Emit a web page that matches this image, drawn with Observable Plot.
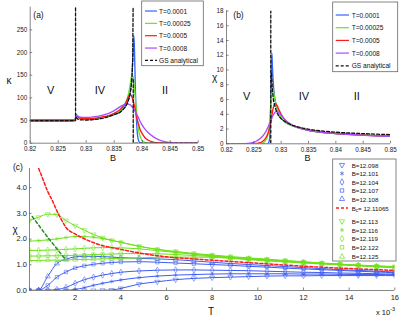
<!DOCTYPE html>
<html><head><meta charset="utf-8">
<script src="https://cdn.jsdelivr.net/npm/d3@7"></script>
<script src="https://cdn.jsdelivr.net/npm/@observablehq/plot@0.6"></script>
<style>
body{margin:0;background:#fff;}
#wrap{position:relative;width:415px;height:324px;overflow:hidden;background:#fff;}
#wrap svg{position:absolute;overflow:visible;}
</style></head><body><div id="wrap"></div>
<script>
// ---------- Panel (a): kappa vs B ----------
const aB = [0.820,0.825,0.828,0.8282,0.8284,0.8286,0.829,0.830,0.831,0.832,0.833,0.834,0.835,0.836,0.8365,0.837,0.8373,0.8376,0.8378,0.838,0.8382,0.8384,0.8385,0.8386,0.8388,0.839,0.8393,0.8396,0.840,0.8405,0.841,0.842,0.843,0.844,0.845,0.846,0.848,0.850];
const aBlue   = [50,50,50.5,64,61,58,55,53,53,54,56,59,63,68,75,82,88,98,108,125,160,205,237,215,110,45,8,1,0,0,0,0,0,0,0,0,0,0];
const aGreen  = [50.5,50.5,51,62,61,58,55,53.5,53.5,54.5,57,60,65,70,79,88,97,112,125,142,151,145,135,122,95,68,35,16,6,1.5,0.3,0,0,0,0,0,0,0];
const aRed    = [49,49,49.5,58,59,57,55,54,54.5,56,58.5,61,66,74,80,88,96,104,107,106,101,93,88,83,72,57,44,31,21,12,7,2.5,0.8,0.2,0,0,0,0];
const aPurple = [52,52,52.5,58,59.5,59,57.5,57,57.5,59,62,66,72,80,83.5,86,87,86,85,83,80,77,75,73,69,64,57,49,40,31,24,14,7.5,3.5,1.5,0.6,0.1,0];
// GS analytical (null = break in the dashed line)
const aGsB = [0.820,0.8281,0.8281,0.8281,0.8282,0.8285,0.829,0.830,0.831,0.832,0.833,0.834,0.835,0.836,0.8365,0.837,0.8373,0.8376,0.8378,0.838,0.8382,0.8383,0.83838,0.8384,0.8384,0.8384,0.850];
const aGsK = [50,50,300,null,57,53,51.5,51,51.5,53,55,58.5,63,68,73,80,87,97,106,122,150,180,300,null,140,0,0];
const aXTicks = [0.82,0.825,0.83,0.835,0.84,0.845,0.85];
const aYTicks = [0,50,100,150,200,250];

// ---------- Panel (b): chi vs B ----------
const bB = [0.820,0.823,0.824,0.825,0.8255,0.826,0.8265,0.827,0.8275,0.8278,0.828,0.8282,0.8283,0.8284,0.8286,0.8288,0.829,0.8293,0.8296,0.830,0.831,0.832,0.833,0.834,0.835,0.836,0.838,0.840,0.842,0.844,0.846,0.848,0.850];
const bBlue   = [0,0,0,0,0,0,0,0,0,0.3,2.5,9.5,12.3,10.5,7.8,6.4,5.5,4.6,4.0,3.45,2.8,2.45,2.2,1.98,1.82,1.7,1.52,1.4,1.3,1.22,1.15,1.09,1.04];
const bGreen  = [0,0,0,0,0,0.02,0.08,0.3,1.0,2.2,4.0,6.5,7.3,7.6,7.0,6.2,5.5,4.7,4.1,3.5,2.82,2.45,2.2,1.98,1.82,1.7,1.52,1.4,1.3,1.22,1.15,1.09,1.04];
const bRed    = [0,0,0.01,0.03,0.06,0.12,0.28,0.6,1.25,1.9,2.5,3.3,3.8,4.3,5.0,5.4,5.45,5.1,4.6,4.0,3.0,2.55,2.25,2.02,1.84,1.71,1.52,1.4,1.3,1.21,1.14,1.08,1.03];
const bPurple = [0,0.03,0.06,0.2,0.38,0.62,0.95,1.4,2.1,2.6,3.0,3.3,3.5,3.7,3.95,4.2,4.35,4.38,4.2,3.85,3.05,2.55,2.25,2.0,1.83,1.7,1.5,1.38,1.28,1.2,1.13,1.07,1.02];
const bGsB = [0.820,0.8281,0.8281,0.8281,0.82825,0.8284,0.8286,0.829,0.8293,0.8296,0.830,0.831,0.832,0.833,0.834,0.835,0.836,0.838,0.840,0.842,0.844,0.846,0.848,0.850];
const bGsX = [0,0,18,null,9.5,7.2,5.8,4.7,4.1,3.7,3.4,2.85,2.52,2.3,2.12,1.98,1.86,1.69,1.57,1.48,1.41,1.35,1.29,1.25];
const bXTicks = [0.82,0.825,0.83,0.835,0.84,0.845,0.85];
const bYTicks = [0,2,4,6,8,10,12,14,16,18];

// ---------- Panel (c): chi vs T (x 1e-3) ----------
const cT = [0,0.4,0.8,1.2,1.6,2,2.4,2.8,3.2,3.6,4,4.8,5.6,6.4,7.2,8,8.8,9.6,10.4,11.2,12,12.8,13.6,14.4,15.2,16];
const c12098 = [0,0,0,0,0,0,0,0,0.01,0.02,0.08,0.25,0.34,0.42,0.47,0.5,0.52,0.54,0.56,0.57,0.57,0.58,0.58,0.58,0.58,0.58];
const c12101 = [0,0,0,0,0.01,0.04,0.11,0.2,0.28,0.35,0.41,0.5,0.56,0.6,0.62,0.64,0.65,0.65,0.65,0.65,0.64,0.64,0.63,0.62,0.62,0.61];
const c12104 = [0,0,0.01,0.04,0.12,0.28,0.42,0.52,0.6,0.66,0.71,0.76,0.79,0.8,0.8,0.79,0.78,0.77,0.75,0.73,0.71,0.7,0.68,0.67,0.65,0.64];
const c12107 = [0,0.01,0.2,0.52,0.72,0.88,0.96,1.02,1.06,1.09,1.11,1.12,1.1,1.07,1.04,1.01,0.98,0.94,0.91,0.87,0.84,0.81,0.78,0.75,0.72,0.69];
const c12108 = [0,0.02,0.55,1.05,1.22,1.31,1.33,1.33,1.32,1.3,1.28,1.25,1.23,1.2,1.15,1.1,1.05,1.01,0.97,0.93,0.89,0.85,0.81,0.78,0.75,0.72];
const c12113 = [2.72,2.85,2.97,2.95,2.72,2.52,2.35,2.18,2.05,1.95,1.87,1.72,1.6,1.52,1.44,1.38,1.32,1.27,1.22,1.17,1.12,1.07,1.03,0.99,0.96,0.93];
const c12116 = [1.92,1.94,1.97,2.01,2.06,2.1,2.1,2.07,2.02,1.95,1.88,1.72,1.6,1.5,1.42,1.36,1.3,1.25,1.2,1.15,1.11,1.06,1.02,0.98,0.95,0.92];
const c12119 = [1.56,1.56,1.57,1.58,1.6,1.62,1.64,1.66,1.67,1.67,1.66,1.62,1.55,1.48,1.41,1.34,1.28,1.23,1.19,1.14,1.09,1.05,1.01,0.98,0.94,0.91];
const c12122 = [1.34,1.34,1.35,1.35,1.36,1.37,1.38,1.4,1.41,1.42,1.43,1.44,1.43,1.4,1.36,1.32,1.27,1.22,1.17,1.13,1.09,1.05,1.01,0.97,0.93,0.9];
const c12125 = [1.17,1.17,1.18,1.18,1.19,1.2,1.21,1.22,1.23,1.24,1.25,1.27,1.29,1.3,1.3,1.29,1.25,1.2,1.15,1.11,1.07,1.03,1.0,0.96,0.92,0.89];
const cBcT   = [0.4,0.6,0.8,1,1.2,1.4,1.6,2,2.5,3,4,5,6,7.5,10,12.5,16];
const cBcChi = [4.75,4.3,3.85,3.5,3.1,2.75,2.45,2.2,1.97,1.8,1.6,1.43,1.31,1.21,1.06,0.92,0.78];
const cPeakT   = [0.12,0.77,1.58];
const cPeakChi = [2.88,2.1,1.2];
const cXTicks = [2,4,6,8,10,12,14,16];
const cYTicks = [0,1,2,3,4];

const FONT = '"Liberation Sans", Arial, Helvetica, sans-serif';
const BLUE="#3366ff", GREEN="#66e622", RED="#ff1a1a", PURPLE="#a64dff";
const CBLUE="#3d5cf2", CGREEN="#6ee01a";

const wrap = document.getElementById("wrap");
const zip = (xs, ys, kx, ky) => xs.map((x,i)=>({[kx]:x,[ky]:ys[i]}));

function frameMarks(x0, y0, xt, yt, w, h, m) {
  const pw = w - m.l - m.r, ph = h - m.t - m.b;
  return [
    Plot.tickX(xt, {x: d=>d, insetTop: ph-2.5, stroke:"#333", strokeWidth:0.6}),
    Plot.tickY(yt, {y: d=>d, insetRight: pw-2.5, stroke:"#333", strokeWidth:0.6}),
    Plot.ruleY([y0], {stroke:"#666", strokeWidth:0.8}),
    Plot.ruleX([x0], {stroke:"#666", strokeWidth:0.8})
  ];
}
function place(svg, left, top) {
  svg.style.left = left+"px"; svg.style.top = top+"px";
  svg.style.background = "transparent";
  wrap.appendChild(svg);
}
const fmtB = d => String(+d.toFixed(3));

// Panel (a)
{
  const W=205,H=160,m={l:29.7,r:7.3,t:6.7,b:17.3};
  const line = (ys, c) => Plot.line(zip(aB, ys, "B", "v"), {x:"B", y:"v", stroke:c, strokeWidth:1.35, curve:"monotone-x", clip:true});
  const svg = Plot.plot({
    width:W, height:H, marginLeft:m.l, marginRight:m.r, marginTop:m.t, marginBottom:m.b,
    style:{fontFamily:FONT, fontSize:"6.3px", color:"#222", background:"transparent"},
    x:{domain:[0.82,0.85], ticks:aXTicks, tickFormat:fmtB, tickSize:0, tickPadding:3.6, label:null},
    y:{domain:[0,300], ticks:aYTicks, tickSize:0, tickPadding:3, label:null},
    marks:[
      line(aBlue, BLUE), line(aGreen, GREEN), line(aRed, RED), line(aPurple, PURPLE),
      Plot.line(zip(aGsB, aGsK, "B", "v"), {x:"B", y:"v", stroke:"#111", strokeWidth:1.3, strokeDasharray:"3,2", clip:true}),
      ...frameMarks(0.82, 0, aXTicks, aYTicks, W, H, m)
    ]
  });
  place(svg, 0, 0);
}
// Panel (b)
{
  const W=210,H=160,m={l:21,r:25,t:10.5,b:16.7};
  const line = (ys, c) => Plot.line(zip(bB, ys, "B", "v"), {x:"B", y:"v", stroke:c, strokeWidth:1.35, curve:"monotone-x", clip:true});
  const svg = Plot.plot({
    width:W, height:H, marginLeft:m.l, marginRight:m.r, marginTop:m.t, marginBottom:m.b,
    style:{fontFamily:FONT, fontSize:"6.3px", color:"#222", background:"transparent"},
    x:{domain:[0.82,0.85], ticks:bXTicks, tickFormat:fmtB, tickSize:0, tickPadding:3.6, label:null},
    y:{domain:[0,18], ticks:bYTicks, tickSize:0, tickPadding:3, label:null},
    marks:[
      line(bBlue, BLUE), line(bGreen, GREEN), line(bRed, RED), line(bPurple, PURPLE),
      Plot.line(zip(bGsB, bGsX, "B", "v"), {x:"B", y:"v", stroke:"#111", strokeWidth:1.3, strokeDasharray:"3,2", clip:true}),
      ...frameMarks(0.82, 0, bXTicks, bYTicks, W, H, m)
    ]
  });
  place(svg, 205, 0);
}
// Panel (c)
const cSeries = [
  {name:"B=12.098", vals:c12098, color:CBLUE, symbol:"triangle", rotate:180},
  {name:"B=12.101", vals:c12101, color:CBLUE, symbol:"asterisk", rotate:0},
  {name:"B=12.104", vals:c12104, color:CBLUE, symbol:"diamond", rotate:0},
  {name:"B=12.107", vals:c12107, color:CBLUE, symbol:"square", rotate:0},
  {name:"B=12.108", vals:c12108, color:CBLUE, symbol:"triangle", rotate:0},
  {name:"B=12.113", vals:c12113, color:CGREEN, symbol:"triangle", rotate:180},
  {name:"B=12.116", vals:c12116, color:CGREEN, symbol:"asterisk", rotate:0},
  {name:"B=12.119", vals:c12119, color:CGREEN, symbol:"diamond", rotate:0},
  {name:"B=12.122", vals:c12122, color:CGREEN, symbol:"square", rotate:0},
  {name:"B=12.125", vals:c12125, color:CGREEN, symbol:"triangle", rotate:0}
];
{
  const W=415,H=164,m={l:29,r:20.7,t:7.9,b:34};
  const marks = [];
  for (const s of cSeries) {
    const data = zip(cT, s.vals, "T", "v");
    marks.push(Plot.line(data, {x:"T", y:"v", stroke:s.color, strokeWidth:1, curve:"monotone-x", clip:true}));
    marks.push(Plot.dot(data, {x:"T", y:"v", stroke:s.color, strokeOpacity:0.75, strokeWidth:0.7, fill:"none", symbol:s.symbol, r:1.9, rotate:s.rotate, clip:true}));
  }
  marks.push(Plot.line(zip(cBcT, cBcChi, "T", "v"), {x:"T", y:"v", stroke:RED, strokeWidth:1.5, strokeDasharray:"3,2", curve:"monotone-x", clip:true}));
  marks.push(Plot.line(zip(cPeakT, cPeakChi, "T", "v"), {x:"T", y:"v", stroke:"#1f8f1f", strokeWidth:1.5, strokeDasharray:"3,2.5", clip:true}));
  const svg = Plot.plot({
    width:W, height:H, marginLeft:m.l, marginRight:m.r, marginTop:m.t, marginBottom:m.b,
    style:{fontFamily:FONT, fontSize:"7.5px", color:"#222", background:"transparent"},
    x:{domain:[0,16], ticks:cXTicks, tickSize:0, tickPadding:4, label:null},
    y:{domain:[0,4.75], ticks:cYTicks, tickSize:0, tickPadding:2.5, label:null},
    marks:[...marks, ...frameMarks(0, 0, cXTicks, cYTicks, W, H, m)]
  });
  place(svg, 0, 160);
}

// ---------- Overlay: legends, labels ----------
const ov = d3.create("svg").attr("width",415).attr("height",324)
  .style("left","0px").style("top","0px").style("font-family",FONT);
wrap.appendChild(ov.node());
function txt(x, y, s, size, anchor="middle") {
  return ov.append("text").attr("x",x).attr("y",y).attr("font-size",size)
    .attr("text-anchor",anchor).attr("dominant-baseline","central").attr("fill","#111").text(s);
}
const abLegend = [
  {label:"T=0.0001", color:BLUE, dash:null},
  {label:"T=0.00025", color:GREEN, dash:null},
  {label:"T=0.0005", color:RED, dash:null},
  {label:"T=0.0008", color:PURPLE, dash:null},
  {label:"GS analytical", color:"#111", dash:"3,2"}
];
function legendAB(x, y, w, h, y0, dy, lx0, lx1, tx) {
  ov.append("rect").attr("x",x).attr("y",y).attr("width",w).attr("height",h)
    .attr("fill","#fff").attr("stroke","#666").attr("stroke-width",0.8);
  abLegend.forEach((e,i)=>{
    const yy = y0 + i*dy;
    ov.append("line").attr("x1",lx0).attr("x2",lx1).attr("y1",yy).attr("y2",yy)
      .attr("stroke",e.color).attr("stroke-width",1.2).attr("stroke-dasharray",e.dash);
    txt(tx, yy, e.label, 6.6, "start");
  });
}
legendAB(141.7, 1, 61.6, 64.7, 11, 12.35, 145, 157, 159);
legendAB(332.7, 2, 65, 69.7, 15, 12.7, 335.7, 349, 351.7);

{
  ov.append("rect").attr("x",332.7).attr("y",159).attr("width",63.3).attr("height",102)
    .attr("fill","#fff").attr("stroke","#666").attr("stroke-width",0.8);
  const ys = [165,173.5,182,190.5,199,221.3,230,238.7,247.3,256.7];
  const symMap = {triangle:d3.symbolTriangle, asterisk:d3.symbolAsterisk, diamond:d3.symbolDiamond, square:d3.symbolSquare};
  cSeries.forEach((s,i)=>{
    ov.append("path").attr("d", d3.symbol(symMap[s.symbol], 12)())
      .attr("transform",`translate(342,${ys[i]}) rotate(${s.rotate})`)
      .attr("fill","none").attr("stroke",s.color).attr("stroke-width",0.7);
    txt(351.7, ys[i], s.name, 6.2, "start");
  });
  ov.append("line").attr("x1",336).attr("x2",348).attr("y1",208).attr("y2",208)
    .attr("stroke",RED).attr("stroke-width",1.5).attr("stroke-dasharray","3,2");
  const t = ov.append("text").attr("x",351.7).attr("y",208).attr("font-size",6.2)
    .attr("dominant-baseline","central").attr("fill","#111");
  t.append("tspan").text("B");
  t.append("tspan").attr("font-size",4.5).attr("dy",2).text("c");
  t.append("tspan").attr("dy",-2).text("= 12.11065");
}
txt(38.5, 15, "(a)", 8.5);
txt(238.5, 15, "(b)", 8.5);
txt(18, 166.5, "(c)", 8.5);
txt(9, 80, "κ", 10);
txt(214.5, 77, "χ", 10);
txt(15, 229.5, "χ", 10);
txt(113, 158, "B", 9);
txt(307.5, 158, "B", 9);
txt(211, 311, "T", 10);
{
  const t = ov.append("text").attr("x",376).attr("y",312).attr("font-size",7.5)
    .attr("dominant-baseline","central").attr("fill","#111");
  t.append("tspan").text("x 10");
  t.append("tspan").attr("font-size",5.5).attr("dy",-3.5).text("-3");
}
const regionA = [{s:"V",x:50.7},{s:"IV",x:100},{s:"II",x:165}];
const regionB = [{s:"V",x:246.7},{s:"IV",x:304},{s:"II",x:356.7}];
regionA.forEach(r=>txt(r.x, 90, r.s, 11));
regionB.forEach(r=>txt(r.x, 95.5, r.s, 11));
</script></body></html>
